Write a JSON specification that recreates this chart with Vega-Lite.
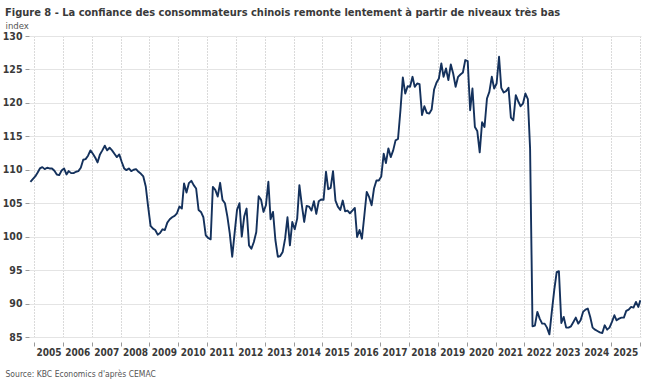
{
  "$schema": "https://vega.github.io/schema/vega-lite/v6.json",
  "width": 612,
  "height": 301,
  "autosize": {"type": "none"},
  "padding": {"left": 29, "top": 36, "right": 11, "bottom": 48},
  "background": "white",
  "title": {
    "text": "Figure 8 - La confiance des consommateurs chinois remonte lentement à partir de niveaux très bas",
    "anchor": "start",
    "frame": "group",
    "dx": -24,
    "offset": 2,
    "font": "DejaVu Sans Condensed, Liberation Sans, sans-serif",
    "fontSize": 11,
    "fontWeight": "bold",
    "color": "#3a3a3a"
  },
  "config": {
    "view": {"stroke": null},
    "font": "DejaVu Sans Condensed, Liberation Sans, sans-serif"
  },
  "data": {
    "values": [
      {"d":"2004-11-15","v":108.2},{"d":"2004-12-15","v":108.6},
      {"d":"2005-01-15","v":109.0},{"d":"2005-02-15","v":109.6},{"d":"2005-03-15","v":110.2},{"d":"2005-04-15","v":110.4},{"d":"2005-05-15","v":110.1},{"d":"2005-06-15","v":110.3},{"d":"2005-07-15","v":110.2},{"d":"2005-08-15","v":110.2},{"d":"2005-09-15","v":109.85},{"d":"2005-10-15","v":109.3},{"d":"2005-11-15","v":109.2},{"d":"2005-12-15","v":109.9},
      {"d":"2006-01-15","v":110.2},{"d":"2006-02-15","v":109.3},{"d":"2006-03-15","v":109.8},{"d":"2006-04-15","v":109.5},{"d":"2006-05-15","v":109.5},{"d":"2006-06-15","v":109.7},{"d":"2006-07-15","v":109.8},{"d":"2006-08-15","v":110.3},{"d":"2006-09-15","v":111.5},{"d":"2006-10-15","v":111.6},{"d":"2006-11-15","v":112.1},{"d":"2006-12-15","v":112.9},
      {"d":"2007-01-15","v":112.4},{"d":"2007-02-15","v":111.8},{"d":"2007-03-15","v":111.1},{"d":"2007-04-15","v":112.3},{"d":"2007-05-15","v":112.9},{"d":"2007-06-15","v":113.6},{"d":"2007-07-15","v":112.9},{"d":"2007-08-15","v":113.3},{"d":"2007-09-15","v":112.9},{"d":"2007-10-15","v":112.4},{"d":"2007-11-15","v":111.9},{"d":"2007-12-15","v":112.3},
      {"d":"2008-01-15","v":111.2},{"d":"2008-02-15","v":110.2},{"d":"2008-03-15","v":109.95},{"d":"2008-04-15","v":110.2},{"d":"2008-05-15","v":109.8},{"d":"2008-06-15","v":110.0},{"d":"2008-07-15","v":110.1},{"d":"2008-08-15","v":109.7},{"d":"2008-09-15","v":109.4},{"d":"2008-10-15","v":109.0},{"d":"2008-11-15","v":107.5},{"d":"2008-12-15","v":104.5},
      {"d":"2009-01-15","v":101.6},{"d":"2009-02-15","v":101.2},{"d":"2009-03-15","v":101.0},{"d":"2009-04-15","v":100.3},{"d":"2009-05-15","v":100.55},{"d":"2009-06-15","v":101.1},{"d":"2009-07-15","v":101.0},{"d":"2009-08-15","v":102.1},{"d":"2009-09-15","v":102.6},{"d":"2009-10-15","v":102.9},{"d":"2009-11-15","v":103.1},{"d":"2009-12-15","v":103.5},
      {"d":"2010-01-15","v":104.5},{"d":"2010-02-15","v":104.2},{"d":"2010-03-15","v":107.95},{"d":"2010-04-15","v":106.6},{"d":"2010-05-15","v":108.0},{"d":"2010-06-15","v":108.35},{"d":"2010-07-15","v":107.7},{"d":"2010-08-15","v":107.2},{"d":"2010-09-15","v":104.0},{"d":"2010-10-15","v":103.7},{"d":"2010-11-15","v":102.9},{"d":"2010-12-15","v":100.2},
      {"d":"2011-01-15","v":99.8},{"d":"2011-02-15","v":99.6},{"d":"2011-03-15","v":107.45},{"d":"2011-04-15","v":107.0},{"d":"2011-05-15","v":106.0},{"d":"2011-06-15","v":108.05},{"d":"2011-07-15","v":105.5},{"d":"2011-08-15","v":105.0},{"d":"2011-09-15","v":103.0},{"d":"2011-10-15","v":100.5},{"d":"2011-11-15","v":97.0},{"d":"2011-12-15","v":100.5},
      {"d":"2012-01-15","v":104.0},{"d":"2012-02-15","v":105.0},{"d":"2012-03-15","v":100.0},{"d":"2012-04-15","v":103.0},{"d":"2012-05-15","v":104.2},{"d":"2012-06-15","v":98.7},{"d":"2012-07-15","v":98.2},{"d":"2012-08-15","v":99.2},{"d":"2012-09-15","v":100.7},{"d":"2012-10-15","v":106.05},{"d":"2012-11-15","v":105.5},{"d":"2012-12-15","v":103.7},
      {"d":"2013-01-15","v":104.7},{"d":"2013-02-15","v":108.2},{"d":"2013-03-15","v":102.6},{"d":"2013-04-15","v":103.7},{"d":"2013-05-15","v":99.5},{"d":"2013-06-15","v":97.0},{"d":"2013-07-15","v":97.1},{"d":"2013-08-15","v":97.7},{"d":"2013-09-15","v":99.7},{"d":"2013-10-15","v":102.9},{"d":"2013-11-15","v":98.7},{"d":"2013-12-15","v":102.2},
      {"d":"2014-01-15","v":101.1},{"d":"2014-02-15","v":102.7},{"d":"2014-03-15","v":107.7},{"d":"2014-04-15","v":104.7},{"d":"2014-05-15","v":102.2},{"d":"2014-06-15","v":104.6},{"d":"2014-07-15","v":104.5},{"d":"2014-08-15","v":103.9},{"d":"2014-09-15","v":105.3},{"d":"2014-10-15","v":103.4},{"d":"2014-11-15","v":105.3},{"d":"2014-12-15","v":105.55},
      {"d":"2015-01-15","v":105.5},{"d":"2015-02-15","v":109.7},{"d":"2015-03-15","v":107.1},{"d":"2015-04-15","v":107.3},{"d":"2015-05-15","v":109.8},{"d":"2015-06-15","v":105.4},{"d":"2015-07-15","v":104.5},{"d":"2015-08-15","v":104.0},{"d":"2015-09-15","v":105.4},{"d":"2015-10-15","v":103.8},{"d":"2015-11-15","v":103.9},{"d":"2015-12-15","v":103.5},
      {"d":"2016-01-15","v":103.9},{"d":"2016-02-15","v":104.3},{"d":"2016-03-15","v":99.95},{"d":"2016-04-15","v":101.0},{"d":"2016-05-15","v":99.7},{"d":"2016-06-15","v":103.2},{"d":"2016-07-15","v":106.7},{"d":"2016-08-15","v":105.9},{"d":"2016-09-15","v":104.7},{"d":"2016-10-15","v":107.2},{"d":"2016-11-15","v":108.4},{"d":"2016-12-15","v":108.4},
      {"d":"2017-01-15","v":109.0},{"d":"2017-02-15","v":112.4},{"d":"2017-03-15","v":111.0},{"d":"2017-04-15","v":113.2},{"d":"2017-05-15","v":111.9},{"d":"2017-06-15","v":112.9},{"d":"2017-07-15","v":114.4},{"d":"2017-08-15","v":114.6},{"d":"2017-09-15","v":118.9},{"d":"2017-10-15","v":123.8},{"d":"2017-11-15","v":121.4},{"d":"2017-12-15","v":122.5},
      {"d":"2018-01-15","v":122.4},{"d":"2018-02-15","v":123.9},{"d":"2018-03-15","v":122.4},{"d":"2018-04-15","v":122.9},{"d":"2018-05-15","v":122.8},{"d":"2018-06-15","v":118.2},{"d":"2018-07-15","v":119.5},{"d":"2018-08-15","v":118.5},{"d":"2018-09-15","v":118.4},{"d":"2018-10-15","v":119.0},{"d":"2018-11-15","v":122.0},{"d":"2018-12-15","v":123.0},
      {"d":"2019-01-15","v":123.65},{"d":"2019-02-15","v":125.9},{"d":"2019-03-15","v":123.9},{"d":"2019-04-15","v":125.15},{"d":"2019-05-15","v":123.4},{"d":"2019-06-15","v":125.75},{"d":"2019-07-15","v":124.4},{"d":"2019-08-15","v":122.4},{"d":"2019-09-15","v":123.9},{"d":"2019-10-15","v":124.25},{"d":"2019-11-15","v":124.55},{"d":"2019-12-15","v":126.4},
      {"d":"2020-01-15","v":126.25},{"d":"2020-02-15","v":118.9},{"d":"2020-03-15","v":122.15},{"d":"2020-04-15","v":116.4},{"d":"2020-05-15","v":115.8},{"d":"2020-06-15","v":112.6},{"d":"2020-07-15","v":117.1},{"d":"2020-08-15","v":116.4},{"d":"2020-09-15","v":120.65},{"d":"2020-10-15","v":121.65},{"d":"2020-11-15","v":123.9},{"d":"2020-12-15","v":122.15},
      {"d":"2021-01-15","v":122.9},{"d":"2021-02-15","v":126.9},{"d":"2021-03-15","v":122.25},{"d":"2021-04-15","v":121.55},{"d":"2021-05-15","v":121.75},{"d":"2021-06-15","v":122.25},{"d":"2021-07-15","v":117.8},{"d":"2021-08-15","v":117.4},{"d":"2021-09-15","v":121.15},{"d":"2021-10-15","v":120.25},{"d":"2021-11-15","v":119.5},{"d":"2021-12-15","v":119.9},
      {"d":"2022-01-15","v":121.4},{"d":"2022-02-15","v":120.55},{"d":"2022-03-15","v":113.2},{"d":"2022-04-15","v":86.6},{"d":"2022-05-15","v":86.7},{"d":"2022-06-15","v":88.75},{"d":"2022-07-15","v":87.75},{"d":"2022-08-15","v":87.0},{"d":"2022-09-15","v":87.0},{"d":"2022-10-15","v":86.4},{"d":"2022-11-15","v":85.4},{"d":"2022-12-15","v":88.75},
      {"d":"2023-01-15","v":92.0},{"d":"2023-02-15","v":94.7},{"d":"2023-03-15","v":94.85},{"d":"2023-04-15","v":87.1},{"d":"2023-05-15","v":88.0},{"d":"2023-06-15","v":86.4},{"d":"2023-07-15","v":86.4},{"d":"2023-08-15","v":86.6},{"d":"2023-09-15","v":87.25},{"d":"2023-10-15","v":87.9},{"d":"2023-11-15","v":87.0},{"d":"2023-12-15","v":87.5},
      {"d":"2024-01-15","v":88.75},{"d":"2024-02-15","v":89.1},{"d":"2024-03-15","v":89.25},{"d":"2024-04-15","v":88.0},{"d":"2024-05-15","v":86.4},{"d":"2024-06-15","v":86.1},{"d":"2024-07-15","v":85.9},{"d":"2024-08-15","v":85.7},{"d":"2024-09-15","v":85.6},{"d":"2024-10-15","v":86.75},{"d":"2024-11-15","v":86.1},{"d":"2024-12-15","v":86.4},
      {"d":"2025-01-15","v":87.25},{"d":"2025-02-15","v":88.25},{"d":"2025-03-15","v":87.5},{"d":"2025-04-15","v":87.75},{"d":"2025-05-15","v":87.9},{"d":"2025-06-15","v":87.9},{"d":"2025-07-15","v":88.9},{"d":"2025-08-15","v":89.1},{"d":"2025-09-15","v":89.5},{"d":"2025-10-15","v":89.4},{"d":"2025-11-15","v":90.25},{"d":"2025-12-15","v":89.5},
      {"d":"2026-01-10","v":90.5}
    ]
  },
  "mark": {"type": "line", "color": "#14315c", "strokeWidth": 1.9, "strokeJoin": "round", "clip": true},
  "encoding": {
    "x": {
      "field": "d",
      "type": "temporal",
      "scale": {"domain": ["2004-10-28", "2026-01-18"]},
      "axis": {
        "tickCount": {"interval": "year", "step": 1},
        "domain": false,
        "offset": 5,
        "tickSize": 4,
        "tickColor": "#999999",
        "tickWidth": 1,
        "grid": true,
        "gridColor": "#b5b5b5",
        "gridDash": [1, 2],
        "gridWidth": 1,
        "labelOffset": 14.4,
        "labelPadding": 1,
        "labelFont": "DejaVu Sans Condensed, Liberation Sans, sans-serif",
        "labelFontSize": 10,
        "labelFontWeight": "bold",
        "labelColor": "#3a3a3a",
        "labelOverlap": false,
        "labelFlush": false,
        "labelBound": false,
        "labelExpr": "year(datum.value) > 2025 ? '' : timeFormat(datum.value, '%Y')",
        "title": "Source: KBC Economics d'après CEMAC",
        "titleX": -24,
        "titleY": 31,
        "titleAlign": "left",
        "titleBaseline": "middle",
        "titleFont": "DejaVu Sans Condensed, Liberation Sans, sans-serif",
        "titleFontSize": 8.5,
        "titleFontWeight": "normal",
        "titleColor": "#555555"
      }
    },
    "y": {
      "field": "v",
      "type": "quantitative",
      "scale": {"domain": [85, 130], "nice": false, "zero": false},
      "axis": {
        "values": [85, 90, 95, 100, 105, 110, 115, 120, 125, 130],
        "domain": false,
        "tickSize": 4,
        "tickColor": "#999999",
        "grid": true,
        "gridColor": "#e4e4e4",
        "gridWidth": 1,
        "labelPadding": 3,
        "labelFont": "DejaVu Sans Condensed, Liberation Sans, sans-serif",
        "labelFontSize": 10.5,
        "labelFontWeight": "bold",
        "labelColor": "#3a3a3a",
        "title": "index",
        "titleAngle": 0,
        "titleX": -24,
        "titleY": -8,
        "titleAlign": "left",
        "titleBaseline": "alphabetic",
        "titleFont": "DejaVu Sans Condensed, Liberation Sans, sans-serif",
        "titleFontSize": 9.5,
        "titleFontWeight": "normal",
        "titleColor": "#555555"
      }
    }
  }
}
